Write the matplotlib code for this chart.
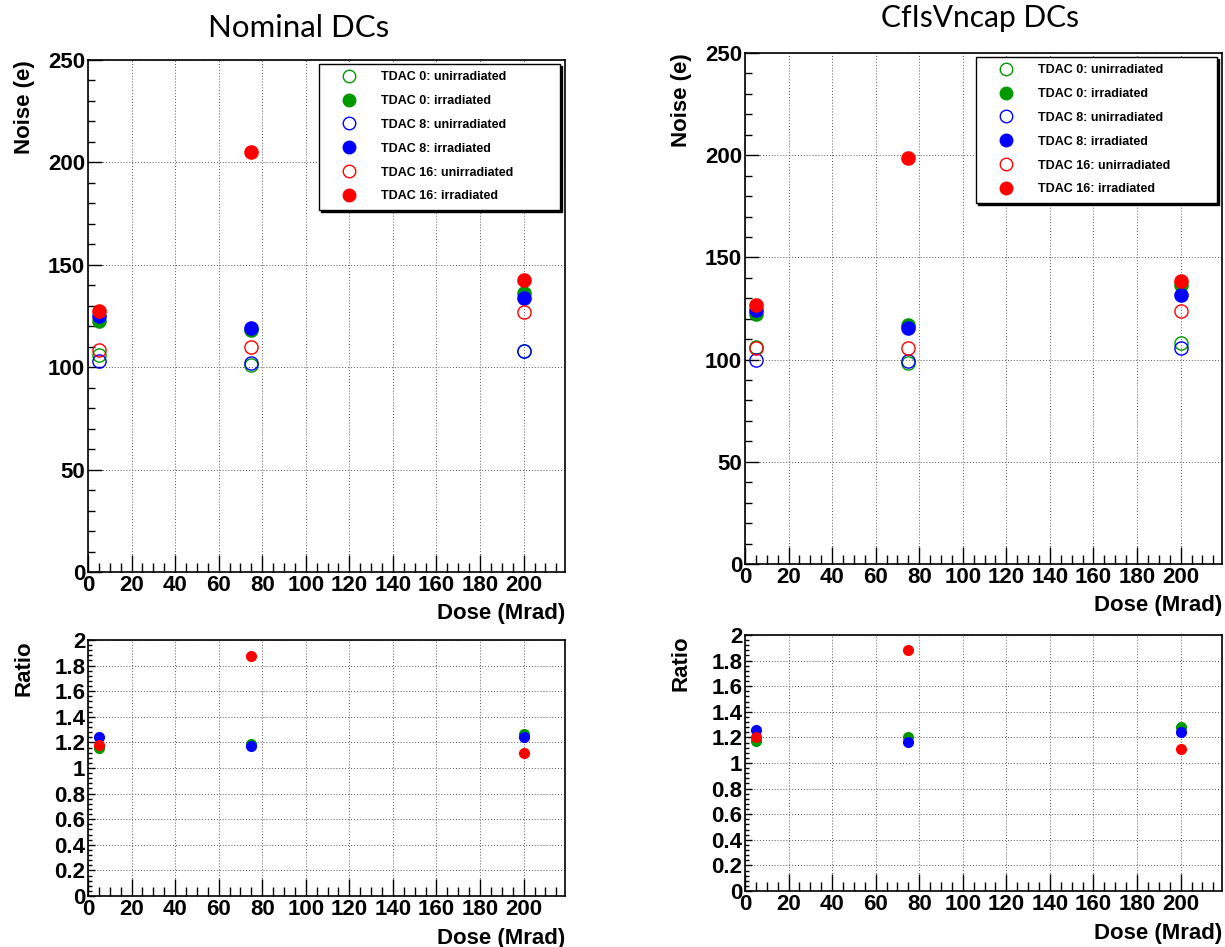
import matplotlib
matplotlib.use('Agg')
import matplotlib.pyplot as plt
from matplotlib.ticker import MultipleLocator, FuncFormatter

# ---- data ----
dose = [5, 75, 200]

# Nominal DCs, noise in e
nom_t0_unirr = [106, 101, 108]
nom_t0_irr = [122.5, 118, 136]
nom_t8_unirr = [103, 102, 108]
nom_t8_irr = [125, 119, 134]
nom_t16_unirr = [108.5, 110, 127]
nom_t16_irr = [127.5, 205, 142.5]

# Nominal DCs, irradiated / unirradiated
nom_r_t0 = [1.16, 1.19, 1.265]
nom_r_t8 = [1.245, 1.17, 1.24]
nom_r_t16 = [1.18, 1.875, 1.12]

# CfIsVncap DCs, noise in e
cf_t0_unirr = [106, 98.5, 108]
cf_t0_irr = [122.5, 117, 136.5]
cf_t8_unirr = [100, 99.5, 105.5]
cf_t8_irr = [124.5, 115.5, 131.5]
cf_t16_unirr = [105.5, 105.5, 124]
cf_t16_irr = [126.5, 198.5, 138.5]

# CfIsVncap DCs, irradiated / unirradiated
cf_r_t0 = [1.17, 1.2, 1.285]
cf_r_t8 = [1.255, 1.165, 1.24]
cf_r_t16 = [1.2, 1.885, 1.11]

GREEN, BLUE, RED = '#009a00', '#0000ff', '#ff0000'
LABELS = ['TDAC 0: unirradiated', 'TDAC 0: irradiated',
          'TDAC 8: unirradiated', 'TDAC 8: irradiated',
          'TDAC 16: unirradiated', 'TDAC 16: irradiated']

AXFONT = 'Liberation Sans'

W, H = 1225, 947
fig = plt.figure(figsize=(W / 100, H / 100), dpi=100)


def box(x0, x1, ytop, ybot):
    return [x0 / W, 1 - ybot / H, (x1 - x0) / W, (ybot - ytop) / H]


def style(ax, ymaj, ymin, ylim, ratio=False):
    ax.set_xlim(0, 219)
    ax.set_ylim(*ylim)
    ax.xaxis.set_major_locator(MultipleLocator(20))
    ax.xaxis.set_minor_locator(MultipleLocator(5))
    ax.yaxis.set_major_locator(MultipleLocator(ymaj))
    ax.yaxis.set_minor_locator(MultipleLocator(ymin))
    ax.yaxis.set_major_formatter(FuncFormatter(lambda v, p: '%g' % round(v, 2)))
    ax.tick_params(which='both', direction='in', top=False, right=False,
                   labelsize=16, width=1.0, pad=2)
    ax.tick_params(axis='x', which='major', length=12)
    ax.tick_params(axis='x', which='minor', length=6.5)
    if ratio:
        ax.tick_params(axis='y', which='major', length=5)
        ax.tick_params(axis='y', which='minor', length=3)
    else:
        ax.tick_params(axis='y', which='major', length=10)
        ax.tick_params(axis='y', which='minor', length=5)
    for lab in ax.get_xticklabels() + ax.get_yticklabels():
        lab.set_fontweight('bold')
        lab.set_fontfamily(AXFONT)
    ax.grid(True, which='major', color='#555555', linestyle=(0, (1, 2)),
            linewidth=0.7)
    ax.set_axisbelow(True)
    for s in ax.spines.values():
        s.set_linewidth(1.2)
    ax.set_xlabel('Dose (Mrad)', fontsize=16, fontweight='bold',
                  fontfamily=AXFONT, loc='right')
    ax.xaxis.set_label_coords(1.0, -0.061 if not ratio else -0.125)


def noise_panel(ax, series):
    ms = 9.5
    for (unirr, irr), c in series:
        ax.plot(dose, unirr, 'o', ms=ms, mfc='none', mec=c, mew=1.0)
        ax.plot(dose, irr, 'o', ms=ms, mfc=c, mec=c)
    style(ax, 50, 10, (0, 250))
    ax.set_ylabel('Noise (e)', fontsize=16, fontweight='bold',
                  fontfamily=AXFONT, loc='top')
    ax.yaxis.set_label_coords(-0.112, 1.0)

    handles = []
    for (unirr, irr), c in series:
        handles.append(plt.Line2D([], [], ls='none', marker='o', ms=9,
                                  mfc='none', mec=c, mew=1.0))
        handles.append(plt.Line2D([], [], ls='none', marker='o', ms=9,
                                  mfc=c, mec=c))
    leg = ax.legend(handles, LABELS, loc='upper left',
                    bbox_to_anchor=(0.484, 0.0, 0.506, 0.993),
                    mode='expand', borderaxespad=0, fancybox=False,
                    framealpha=1, edgecolor='black', handlelength=3.6,
                    handletextpad=0.8, labelspacing=0.95, borderpad=0.6,
                    prop={'family': AXFONT, 'weight': 'bold', 'size': 9},
                    shadow={'ox': 1.6, 'oy': -1.6, 'color': 'black',
                            'alpha': 1})
    leg.get_frame().set_linewidth(1.0)


def ratio_panel(ax, series):
    for r, c in series:
        ax.plot(dose, r, 'o', ms=7, mfc=c, mec=c)
    style(ax, 0.2, 0.04, (0, 2), ratio=True)
    ax.set_ylabel('Ratio', fontsize=16, fontweight='bold',
                  fontfamily=AXFONT, loc='top')
    ax.yaxis.set_label_coords(-0.112, 1.0)


# ---- Nominal DCs ----
ax1 = fig.add_axes(box(88, 565, 60, 572))
noise_panel(ax1, [((nom_t0_unirr, nom_t0_irr), GREEN),
                  ((nom_t8_unirr, nom_t8_irr), BLUE),
                  ((nom_t16_unirr, nom_t16_irr), RED)])
ax2 = fig.add_axes(box(88, 565, 640, 896))
ratio_panel(ax2, [(nom_r_t0, GREEN), (nom_r_t8, BLUE), (nom_r_t16, RED)])

# ---- CfIsVncap DCs ----
ax3 = fig.add_axes(box(745, 1222, 53, 564))
noise_panel(ax3, [((cf_t0_unirr, cf_t0_irr), GREEN),
                  ((cf_t8_unirr, cf_t8_irr), BLUE),
                  ((cf_t16_unirr, cf_t16_irr), RED)])
ax4 = fig.add_axes(box(745, 1222, 635, 891))
ratio_panel(ax4, [(cf_r_t0, GREEN), (cf_r_t8, BLUE), (cf_r_t16, RED)])

fig.text(299 / W, 1 - 28 / H, 'Nominal DCs', ha='center', va='center',
         fontsize=22.5, fontfamily='Lato')
fig.text(980 / W, 1 - 18 / H, 'CfIsVncap DCs', ha='center', va='center',
         fontsize=21.5, fontfamily='Lato')

fig.savefig('out.png', dpi=100)
